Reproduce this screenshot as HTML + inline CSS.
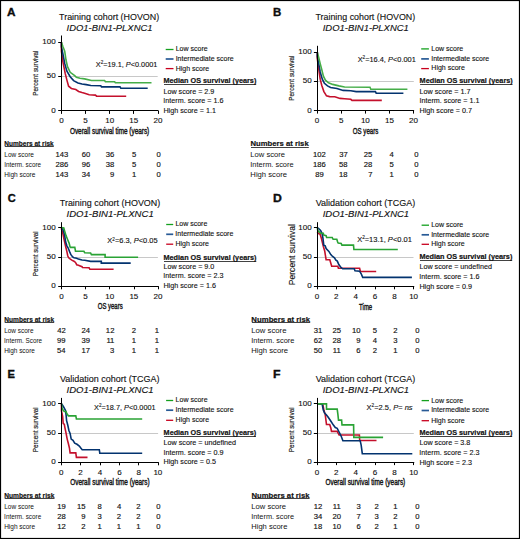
<!DOCTYPE html>
<html><head><meta charset="utf-8"><style>
html,body{margin:0;padding:0;background:#fff;}
svg{display:block;}
text{font-family:"Liberation Sans", sans-serif;stroke:#111;stroke-width:0.12px;} text[font-weight=bold]{stroke:none;}
</style></head><body>
<svg width="520" height="539" viewBox="0 0 520 539">
<rect x="0" y="0" width="520" height="539" fill="#fff"/>
<text transform="translate(6.91,15.70) scale(1.179,1)" font-size="10.0" font-weight="bold" font-style="normal" fill="#111" style="stroke:#000;stroke-width:0.3px">A</text>
<text transform="translate(59.10,20.10) scale(1.013,1)" font-size="8.8" font-weight="normal" font-style="normal" fill="#111">Training cohort (HOVON)</text>
<text transform="translate(66.62,31.00) scale(1.072,1)" font-size="8.8" font-weight="normal" font-style="italic" fill="#111">IDO1-BIN1-PLXNC1</text>
<line x1="61.4" y1="76.5" x2="157.7" y2="76.5" stroke="#c8c8c8" stroke-width="1.0"/>
<polyline points="61.4,42.2 61.4,51.1 63,62.3 65.2,73.4 66.9,80.1 68.6,86.2 71.4,88.4 75.8,89.6 78.6,91.5 82,92.5 84.6,93.2 89.2,94.8 95.4,95.1 96.6,96.2 126.2,96.2" fill="none" stroke="#c4102c" stroke-width="1.6" stroke-linejoin="miter" stroke-linecap="butt"/>
<polyline points="61.4,42.2 61.4,46.7 63,54.5 64.7,63.4 66.9,71.2 70.2,76.7 73.6,80.6 78,82.9 82,84 86.2,84.6 90.8,85.5 100.8,85.8 101.5,86.9 120,86.9 120.8,88.2 147.7,88.2" fill="none" stroke="#03336f" stroke-width="1.6" stroke-linejoin="miter" stroke-linecap="butt"/>
<polyline points="61.4,42.2 63,46.7 64.7,51.1 66,60 67.5,66.7 70.2,72.3 74.7,75.6 76.4,77.3 80,78.2 84.6,78.9 91.5,80.5 104.6,80.5 105.4,81.7 114.6,81.7 115.4,82.8 151.5,82.8" fill="none" stroke="#45ad48" stroke-width="1.6" stroke-linejoin="miter" stroke-linecap="butt"/>
<line x1="61.5" y1="35.5" x2="61.5" y2="111.3" stroke="#000" stroke-width="1.0"/>
<line x1="60.9" y1="110.5" x2="158.5" y2="110.5" stroke="#000" stroke-width="1.0"/>
<line x1="58.199999999999996" y1="42.5" x2="61.4" y2="42.5" stroke="#000" stroke-width="1.0"/>
<text transform="translate(42.17,44.29) scale(1.060,1)" font-size="7.6" font-weight="normal" font-style="normal" fill="#111">100</text>
<line x1="58.199999999999996" y1="76.5" x2="61.4" y2="76.5" stroke="#000" stroke-width="1.0"/>
<text transform="translate(46.66,78.49) scale(1.060,1)" font-size="7.6" font-weight="normal" font-style="normal" fill="#111">50</text>
<line x1="58.199999999999996" y1="110.5" x2="61.4" y2="110.5" stroke="#000" stroke-width="1.0"/>
<text transform="translate(51.13,112.89) scale(1.060,1)" font-size="7.6" font-weight="normal" font-style="normal" fill="#111">0</text>
<line x1="61.5" y1="110.8" x2="61.5" y2="113.89999999999999" stroke="#000" stroke-width="1.0"/>
<text transform="translate(59.15,123.10) scale(1.060,1)" font-size="7.6" font-weight="normal" font-style="normal" fill="#111">0</text>
<line x1="85.5" y1="110.8" x2="85.5" y2="113.89999999999999" stroke="#000" stroke-width="1.0"/>
<text transform="translate(83.36,123.10) scale(1.060,1)" font-size="7.6" font-weight="normal" font-style="normal" fill="#111">5</text>
<line x1="109.5" y1="110.8" x2="109.5" y2="113.89999999999999" stroke="#000" stroke-width="1.0"/>
<text transform="translate(105.18,123.10) scale(1.060,1)" font-size="7.6" font-weight="normal" font-style="normal" fill="#111">10</text>
<line x1="133.5" y1="110.8" x2="133.5" y2="113.89999999999999" stroke="#000" stroke-width="1.0"/>
<text transform="translate(129.29,123.10) scale(1.060,1)" font-size="7.6" font-weight="normal" font-style="normal" fill="#111">15</text>
<line x1="158.5" y1="110.8" x2="158.5" y2="113.89999999999999" stroke="#000" stroke-width="1.0"/>
<text transform="translate(153.48,123.10) scale(1.060,1)" font-size="7.6" font-weight="normal" font-style="normal" fill="#111">20</text>
<text transform="translate(69.90,134.30) scale(0.729,1)" font-size="8.8" font-weight="normal" font-style="normal" fill="#111" style="stroke-width:0.4px">Overall survival time (years)</text>
<text transform="translate(38.30,95.72) rotate(-90) scale(0.803,1)" font-size="7.9" font-weight="normal" fill="#111" style="stroke-width:0.15px">Percent survival</text>
<text transform="translate(95.84,66.50) scale(1.004,1)" font-size="7.3" fill="#111"><tspan x="0.00" y="0.00" font-size="7.30" font-style="normal">X</tspan><tspan x="4.87" y="-2.77" font-size="4.53" font-style="normal">2</tspan><tspan x="7.39" y="0.00" font-size="7.30" font-style="normal">=19.1, </tspan><tspan x="29.91" y="0.00" font-size="7.30" font-style="italic">P</tspan><tspan x="34.78" y="0.00" font-size="7.30" font-style="normal">&lt;0.0001</tspan></text>
<line x1="165.7" y1="49.5" x2="173.5" y2="49.5" stroke="#14a01e" stroke-width="1.3"/>
<text transform="translate(175.72,51.30) scale(1.000,1)" font-size="7.0" font-weight="normal" font-style="normal" fill="#111">Low score</text>
<line x1="165.7" y1="59" x2="173.5" y2="59" stroke="#285a96" stroke-width="1.7"/>
<text transform="translate(175.65,60.90) scale(1.000,1)" font-size="7.0" font-weight="normal" font-style="normal" fill="#111">Intermediate score</text>
<line x1="165.7" y1="68.6" x2="173.5" y2="68.6" stroke="#c8001e" stroke-width="1.3"/>
<text transform="translate(175.72,70.50) scale(1.000,1)" font-size="7.0" font-weight="normal" font-style="normal" fill="#111">High score</text>
<text transform="translate(163.51,83.20) scale(1.011,1)" font-size="7.2" font-weight="bold" font-style="normal" fill="#111" style="stroke:#111;stroke-width:0.18px">Median OS survival (years)</text>
<line x1="164" y1="84.5" x2="256.2" y2="84.5" stroke="#111" stroke-width="0.8"/>
<text transform="translate(163.41,93.60) scale(1.000,1)" font-size="7.2" font-weight="normal" font-style="normal" fill="#111">Low score = 2.9</text>
<text transform="translate(163.33,103.00) scale(1.000,1)" font-size="7.2" font-weight="normal" font-style="normal" fill="#111">Interm. score = 1.6</text>
<text transform="translate(163.41,112.60) scale(1.000,1)" font-size="7.2" font-weight="normal" font-style="normal" fill="#111">High score = 1.1</text>
<text transform="translate(4.36,145.50) scale(0.817,1)" font-size="8.0" font-weight="bold" font-style="normal" fill="#111" style="stroke:#111;stroke-width:0.18px">Numbers at risk</text>
<line x1="4.8" y1="146.5" x2="53.8" y2="146.5" stroke="#111" stroke-width="0.8"/>
<text transform="translate(4.26,157.10) scale(0.945,1)" font-size="6.9" font-weight="normal" font-style="normal" fill="#111" style="stroke:none">Low score</text>
<text transform="translate(4.22,167.00) scale(0.915,1)" font-size="6.9" font-weight="normal" font-style="normal" fill="#111" style="stroke:none">Interm. score</text>
<text transform="translate(4.26,176.90) scale(0.946,1)" font-size="6.9" font-weight="normal" font-style="normal" fill="#111" style="stroke:none">High score</text>
<text transform="translate(55.54,157.40) scale(1.080,1)" font-size="7.1" font-weight="normal" font-style="normal" fill="#111" style="stroke-width:0.15px">143</text>
<text transform="translate(81.78,157.40) scale(1.080,1)" font-size="7.1" font-weight="normal" font-style="normal" fill="#111" style="stroke-width:0.15px">60</text>
<text transform="translate(105.81,157.40) scale(1.080,1)" font-size="7.1" font-weight="normal" font-style="normal" fill="#111" style="stroke-width:0.15px">36</text>
<text transform="translate(132.05,157.40) scale(1.080,1)" font-size="7.1" font-weight="normal" font-style="normal" fill="#111" style="stroke-width:0.15px">5</text>
<text transform="translate(156.43,157.40) scale(1.080,1)" font-size="7.1" font-weight="normal" font-style="normal" fill="#111" style="stroke-width:0.15px">0</text>
<text transform="translate(55.54,167.30) scale(1.080,1)" font-size="7.1" font-weight="normal" font-style="normal" fill="#111" style="stroke-width:0.15px">286</text>
<text transform="translate(81.81,167.30) scale(1.080,1)" font-size="7.1" font-weight="normal" font-style="normal" fill="#111" style="stroke-width:0.15px">96</text>
<text transform="translate(105.81,167.30) scale(1.080,1)" font-size="7.1" font-weight="normal" font-style="normal" fill="#111" style="stroke-width:0.15px">38</text>
<text transform="translate(132.05,167.30) scale(1.080,1)" font-size="7.1" font-weight="normal" font-style="normal" fill="#111" style="stroke-width:0.15px">5</text>
<text transform="translate(156.43,167.30) scale(1.080,1)" font-size="7.1" font-weight="normal" font-style="normal" fill="#111" style="stroke-width:0.15px">0</text>
<text transform="translate(55.54,177.20) scale(1.080,1)" font-size="7.1" font-weight="normal" font-style="normal" fill="#111" style="stroke-width:0.15px">143</text>
<text transform="translate(81.70,177.20) scale(1.080,1)" font-size="7.1" font-weight="normal" font-style="normal" fill="#111" style="stroke-width:0.15px">34</text>
<text transform="translate(110.09,177.20) scale(1.080,1)" font-size="7.1" font-weight="normal" font-style="normal" fill="#111" style="stroke-width:0.15px">9</text>
<text transform="translate(132.11,177.20) scale(1.080,1)" font-size="7.1" font-weight="normal" font-style="normal" fill="#111" style="stroke-width:0.15px">1</text>
<text transform="translate(156.43,177.20) scale(1.080,1)" font-size="7.1" font-weight="normal" font-style="normal" fill="#111" style="stroke-width:0.15px">0</text>
<text transform="translate(272.98,15.50) scale(1.148,1)" font-size="10.0" font-weight="bold" font-style="normal" fill="#111" style="stroke:#000;stroke-width:0.3px">B</text>
<text transform="translate(315.50,19.80) scale(1.009,1)" font-size="8.8" font-weight="normal" font-style="normal" fill="#111">Training cohort (HOVON)</text>
<text transform="translate(322.72,31.00) scale(1.074,1)" font-size="8.8" font-weight="normal" font-style="italic" fill="#111">IDO1-BIN1-PLXNC1</text>
<line x1="317" y1="81.5" x2="413.8" y2="81.5" stroke="#c8c8c8" stroke-width="1.0"/>
<polyline points="317.3,52.2 317.3,58.4 318.7,68.8 320.2,79.2 321.8,85.4 323.9,91.6 326.5,95.8 329.6,96.6 334.8,96.8 340,98.4 344.6,98.8 350.8,99.3 352,100.4 381.8,100.4" fill="none" stroke="#c4102c" stroke-width="1.6" stroke-linejoin="miter" stroke-linecap="butt"/>
<polyline points="317.3,52.2 317.3,56.3 318.7,63.6 320.2,71.9 322.3,79.2 324.4,83.3 327.5,85.9 330.6,87.5 336.9,88.5 343.1,90.4 350.8,90.7 356.2,91.6 375.4,91.6 376.2,93.2 403.4,93.2" fill="none" stroke="#03336f" stroke-width="1.6" stroke-linejoin="miter" stroke-linecap="butt"/>
<polyline points="317.3,52.2 318.7,57.4 320.2,63.6 321.8,69.8 323.4,76.1 325.4,80.2 328.5,82.8 332.7,84.4 338.9,85.9 344.6,87 370,87.2 370.8,89.2 407.4,89.2" fill="none" stroke="#45ad48" stroke-width="1.6" stroke-linejoin="miter" stroke-linecap="butt"/>
<line x1="317.5" y1="45.8" x2="317.5" y2="111.0" stroke="#000" stroke-width="1.0"/>
<line x1="316.6" y1="110.5" x2="414.1" y2="110.5" stroke="#000" stroke-width="1.0"/>
<line x1="313.90000000000003" y1="52.5" x2="317.1" y2="52.5" stroke="#000" stroke-width="1.0"/>
<text transform="translate(298.17,54.09) scale(1.060,1)" font-size="7.6" font-weight="normal" font-style="normal" fill="#111">100</text>
<line x1="313.90000000000003" y1="81.5" x2="317.1" y2="81.5" stroke="#000" stroke-width="1.0"/>
<text transform="translate(302.66,83.49) scale(1.060,1)" font-size="7.6" font-weight="normal" font-style="normal" fill="#111">50</text>
<line x1="313.90000000000003" y1="110.5" x2="317.1" y2="110.5" stroke="#000" stroke-width="1.0"/>
<text transform="translate(307.13,112.59) scale(1.060,1)" font-size="7.6" font-weight="normal" font-style="normal" fill="#111">0</text>
<line x1="317.5" y1="110.5" x2="317.5" y2="113.6" stroke="#000" stroke-width="1.0"/>
<text transform="translate(314.85,122.80) scale(1.060,1)" font-size="7.6" font-weight="normal" font-style="normal" fill="#111">0</text>
<line x1="341.5" y1="110.5" x2="341.5" y2="113.6" stroke="#000" stroke-width="1.0"/>
<text transform="translate(338.96,122.80) scale(1.060,1)" font-size="7.6" font-weight="normal" font-style="normal" fill="#111">5</text>
<line x1="365.5" y1="110.5" x2="365.5" y2="113.6" stroke="#000" stroke-width="1.0"/>
<text transform="translate(360.88,122.80) scale(1.060,1)" font-size="7.6" font-weight="normal" font-style="normal" fill="#111">10</text>
<line x1="389.5" y1="110.5" x2="389.5" y2="113.6" stroke="#000" stroke-width="1.0"/>
<text transform="translate(385.09,122.80) scale(1.060,1)" font-size="7.6" font-weight="normal" font-style="normal" fill="#111">15</text>
<line x1="413.5" y1="110.5" x2="413.5" y2="113.6" stroke="#000" stroke-width="1.0"/>
<text transform="translate(409.08,122.80) scale(1.060,1)" font-size="7.6" font-weight="normal" font-style="normal" fill="#111">20</text>
<text transform="translate(352.81,134.20) scale(0.695,1)" font-size="8.8" font-weight="normal" font-style="normal" fill="#111" style="stroke-width:0.4px">OS years</text>
<text transform="translate(294.00,100.72) rotate(-90) scale(0.803,1)" font-size="7.9" font-weight="normal" fill="#111" style="stroke-width:0.15px">Percent survival</text>
<text transform="translate(357.63,61.80) scale(1.016,1)" font-size="7.3" fill="#111"><tspan x="0.00" y="0.00" font-size="7.30" font-style="normal">X</tspan><tspan x="4.87" y="-2.77" font-size="4.53" font-style="normal">2</tspan><tspan x="7.39" y="0.00" font-size="7.30" font-style="normal">=16.4, </tspan><tspan x="29.91" y="0.00" font-size="7.30" font-style="italic">P</tspan><tspan x="34.78" y="0.00" font-size="7.30" font-style="normal">&lt;0.001</tspan></text>
<line x1="421.2" y1="48.9" x2="428.9" y2="48.9" stroke="#14a01e" stroke-width="1.3"/>
<text transform="translate(431.32,50.80) scale(1.000,1)" font-size="7.0" font-weight="normal" font-style="normal" fill="#111">Low score</text>
<line x1="421.2" y1="58.9" x2="428.9" y2="58.9" stroke="#285a96" stroke-width="1.7"/>
<text transform="translate(431.25,60.70) scale(1.000,1)" font-size="7.0" font-weight="normal" font-style="normal" fill="#111">Intermediate score</text>
<line x1="421.2" y1="68.6" x2="428.9" y2="68.6" stroke="#c8001e" stroke-width="1.3"/>
<text transform="translate(431.32,70.40) scale(1.000,1)" font-size="7.0" font-weight="normal" font-style="normal" fill="#111">High score</text>
<text transform="translate(419.61,83.00) scale(1.013,1)" font-size="7.2" font-weight="bold" font-style="normal" fill="#111" style="stroke:#111;stroke-width:0.18px">Median OS survival (years)</text>
<line x1="420.1" y1="84.5" x2="512.5" y2="84.5" stroke="#111" stroke-width="0.8"/>
<text transform="translate(419.51,93.60) scale(1.000,1)" font-size="7.2" font-weight="normal" font-style="normal" fill="#111">Low score = 1.7</text>
<text transform="translate(419.43,102.90) scale(1.000,1)" font-size="7.2" font-weight="normal" font-style="normal" fill="#111">Interm. score = 1.1</text>
<text transform="translate(419.51,113.00) scale(1.000,1)" font-size="7.2" font-weight="normal" font-style="normal" fill="#111">High score = 0.7</text>
<text transform="translate(250.48,145.60) scale(0.964,1)" font-size="8.0" font-weight="bold" font-style="normal" fill="#111" style="stroke:#111;stroke-width:0.18px">Numbers at risk</text>
<line x1="251" y1="147.5" x2="308.8" y2="147.5" stroke="#111" stroke-width="0.8"/>
<text transform="translate(250.37,157.00) scale(1.105,1)" font-size="6.9" font-weight="normal" font-style="normal" fill="#111" style="stroke:none">Low score</text>
<text transform="translate(250.31,166.90) scale(1.076,1)" font-size="6.9" font-weight="normal" font-style="normal" fill="#111" style="stroke:none">Interm. score</text>
<text transform="translate(250.37,176.60) scale(1.111,1)" font-size="6.9" font-weight="normal" font-style="normal" fill="#111" style="stroke:none">High score</text>
<text transform="translate(312.91,157.30) scale(1.080,1)" font-size="7.1" font-weight="normal" font-style="normal" fill="#111" style="stroke-width:0.15px">102</text>
<text transform="translate(339.17,157.30) scale(1.080,1)" font-size="7.1" font-weight="normal" font-style="normal" fill="#111" style="stroke-width:0.15px">37</text>
<text transform="translate(363.80,157.30) scale(1.080,1)" font-size="7.1" font-weight="normal" font-style="normal" fill="#111" style="stroke-width:0.15px">25</text>
<text transform="translate(389.46,157.30) scale(1.080,1)" font-size="7.1" font-weight="normal" font-style="normal" fill="#111" style="stroke-width:0.15px">4</text>
<text transform="translate(414.23,157.30) scale(1.080,1)" font-size="7.1" font-weight="normal" font-style="normal" fill="#111" style="stroke-width:0.15px">0</text>
<text transform="translate(312.88,167.20) scale(1.080,1)" font-size="7.1" font-weight="normal" font-style="normal" fill="#111" style="stroke-width:0.15px">186</text>
<text transform="translate(339.11,167.20) scale(1.080,1)" font-size="7.1" font-weight="normal" font-style="normal" fill="#111" style="stroke-width:0.15px">58</text>
<text transform="translate(363.81,167.20) scale(1.080,1)" font-size="7.1" font-weight="normal" font-style="normal" fill="#111" style="stroke-width:0.15px">28</text>
<text transform="translate(389.55,167.20) scale(1.080,1)" font-size="7.1" font-weight="normal" font-style="normal" fill="#111" style="stroke-width:0.15px">5</text>
<text transform="translate(414.23,167.20) scale(1.080,1)" font-size="7.1" font-weight="normal" font-style="normal" fill="#111" style="stroke-width:0.15px">0</text>
<text transform="translate(315.15,176.90) scale(1.080,1)" font-size="7.1" font-weight="normal" font-style="normal" fill="#111" style="stroke-width:0.15px">89</text>
<text transform="translate(339.11,176.90) scale(1.080,1)" font-size="7.1" font-weight="normal" font-style="normal" fill="#111" style="stroke-width:0.15px">18</text>
<text transform="translate(368.13,176.90) scale(1.080,1)" font-size="7.1" font-weight="normal" font-style="normal" fill="#111" style="stroke-width:0.15px">7</text>
<text transform="translate(389.61,176.90) scale(1.080,1)" font-size="7.1" font-weight="normal" font-style="normal" fill="#111" style="stroke-width:0.15px">1</text>
<text transform="translate(414.23,176.90) scale(1.080,1)" font-size="7.1" font-weight="normal" font-style="normal" fill="#111" style="stroke-width:0.15px">0</text>
<text transform="translate(7.81,202.00) scale(1.107,1)" font-size="10.0" font-weight="bold" font-style="normal" fill="#111" style="stroke:#000;stroke-width:0.3px">C</text>
<text transform="translate(59.80,206.20) scale(1.016,1)" font-size="8.8" font-weight="normal" font-style="normal" fill="#111">Training cohort (HOVON)</text>
<text transform="translate(66.52,217.00) scale(1.088,1)" font-size="8.8" font-weight="normal" font-style="italic" fill="#111">IDO1-BIN1-PLXNC1</text>
<line x1="61.4" y1="257.5" x2="157.9" y2="257.5" stroke="#c8c8c8" stroke-width="1.0"/>
<polyline points="61.4,228.0 61.6,229.3 62.9,233.8 64.2,240 65.6,246.2 66.9,251.6 67.8,256 68.7,257.8 70.4,259.1 72.2,260.4 74,261.3 75.3,262.2 76.2,263.6 76.7,264.9 78.4,265.3 82,266.7 82.5,267.5 89.1,267.8 89.9,269.3 113.6,269.3" fill="none" stroke="#c4102c" stroke-width="1.6" stroke-linejoin="miter" stroke-linecap="butt"/>
<polyline points="61.4,228.0 62.9,229.3 64.7,235.6 65.6,241.8 66.9,245.8 68.2,248 69.6,251.6 70.9,254.7 72.7,256.9 74,257.8 76.7,258.2 78.4,259.1 82,260 84.7,260.3 90.6,261.4 101.3,261.4 101.3,263.1 130.7,263.1" fill="none" stroke="#03336f" stroke-width="1.6" stroke-linejoin="miter" stroke-linecap="butt"/>
<polyline points="61.4,227.6 63.8,228 64.7,231.1 66,235.6 67.8,240 69.1,243.1 70,246.7 70.4,247.4 74.8,247.4 75.5,251.2 83.9,251.3 84.7,252.7 90.6,253 91.4,254.6 105.1,254.6 105.1,257.2 138.1,257.2" fill="none" stroke="#2aa335" stroke-width="1.6" stroke-linejoin="miter" stroke-linecap="butt"/>
<line x1="61.5" y1="222.2" x2="61.5" y2="286.7" stroke="#000" stroke-width="1.0"/>
<line x1="60.9" y1="286.5" x2="158.5" y2="286.5" stroke="#000" stroke-width="1.0"/>
<line x1="58.199999999999996" y1="227.5" x2="61.4" y2="227.5" stroke="#000" stroke-width="1.0"/>
<text transform="translate(42.37,229.99) scale(1.060,1)" font-size="7.6" font-weight="normal" font-style="normal" fill="#111">100</text>
<line x1="58.199999999999996" y1="257.5" x2="61.4" y2="257.5" stroke="#000" stroke-width="1.0"/>
<text transform="translate(46.86,259.19) scale(1.060,1)" font-size="7.6" font-weight="normal" font-style="normal" fill="#111">50</text>
<line x1="58.199999999999996" y1="286.5" x2="61.4" y2="286.5" stroke="#000" stroke-width="1.0"/>
<text transform="translate(51.33,288.29) scale(1.060,1)" font-size="7.6" font-weight="normal" font-style="normal" fill="#111">0</text>
<line x1="61.5" y1="286.2" x2="61.5" y2="289.3" stroke="#000" stroke-width="1.0"/>
<text transform="translate(59.15,298.70) scale(1.060,1)" font-size="7.6" font-weight="normal" font-style="normal" fill="#111">0</text>
<line x1="85.5" y1="286.2" x2="85.5" y2="289.3" stroke="#000" stroke-width="1.0"/>
<text transform="translate(83.26,298.70) scale(1.060,1)" font-size="7.6" font-weight="normal" font-style="normal" fill="#111">5</text>
<line x1="109.5" y1="286.2" x2="109.5" y2="289.3" stroke="#000" stroke-width="1.0"/>
<text transform="translate(105.18,298.70) scale(1.060,1)" font-size="7.6" font-weight="normal" font-style="normal" fill="#111">10</text>
<line x1="134.5" y1="286.2" x2="134.5" y2="289.3" stroke="#000" stroke-width="1.0"/>
<text transform="translate(129.39,298.70) scale(1.060,1)" font-size="7.6" font-weight="normal" font-style="normal" fill="#111">15</text>
<line x1="158.5" y1="286.2" x2="158.5" y2="289.3" stroke="#000" stroke-width="1.0"/>
<text transform="translate(153.48,298.70) scale(1.060,1)" font-size="7.6" font-weight="normal" font-style="normal" fill="#111">20</text>
<text transform="translate(97.72,309.30) scale(0.682,1)" font-size="8.8" font-weight="normal" font-style="normal" fill="#111" style="stroke-width:0.4px">OS years</text>
<text transform="translate(38.20,276.32) rotate(-90) scale(0.801,1)" font-size="7.9" font-weight="normal" fill="#111" style="stroke-width:0.15px">Percent survival</text>
<text transform="translate(107.33,243.40) scale(1.022,1)" font-size="7.3" fill="#111"><tspan x="0.00" y="0.00" font-size="7.30" font-style="normal">X</tspan><tspan x="4.87" y="-2.77" font-size="4.53" font-style="normal">2</tspan><tspan x="7.39" y="0.00" font-size="7.30" font-style="normal">=6.3, </tspan><tspan x="25.85" y="0.00" font-size="7.30" font-style="italic">P</tspan><tspan x="30.72" y="0.00" font-size="7.30" font-style="normal">&lt;0.05</tspan></text>
<line x1="166.2" y1="224.5" x2="173.2" y2="224.5" stroke="#14a01e" stroke-width="1.3"/>
<text transform="translate(175.42,226.30) scale(1.000,1)" font-size="7.0" font-weight="normal" font-style="normal" fill="#111">Low score</text>
<line x1="166.2" y1="234.3" x2="173.2" y2="234.3" stroke="#285a96" stroke-width="1.7"/>
<text transform="translate(175.35,236.10) scale(1.000,1)" font-size="7.0" font-weight="normal" font-style="normal" fill="#111">Intermediate score</text>
<line x1="166.2" y1="244.2" x2="173.2" y2="244.2" stroke="#c8001e" stroke-width="1.3"/>
<text transform="translate(175.42,246.00) scale(1.000,1)" font-size="7.0" font-weight="normal" font-style="normal" fill="#111">High score</text>
<text transform="translate(163.51,259.50) scale(1.012,1)" font-size="7.2" font-weight="bold" font-style="normal" fill="#111" style="stroke:#111;stroke-width:0.18px">Median OS survival (years)</text>
<line x1="164" y1="261.5" x2="256.3" y2="261.5" stroke="#111" stroke-width="0.8"/>
<text transform="translate(163.41,269.10) scale(1.000,1)" font-size="7.2" font-weight="normal" font-style="normal" fill="#111">Low score = 9.0</text>
<text transform="translate(163.33,278.40) scale(1.000,1)" font-size="7.2" font-weight="normal" font-style="normal" fill="#111">Interm. score = 2.3</text>
<text transform="translate(163.41,287.60) scale(1.000,1)" font-size="7.2" font-weight="normal" font-style="normal" fill="#111">High score = 1.6</text>
<text transform="translate(4.25,321.50) scale(0.826,1)" font-size="8.0" font-weight="bold" font-style="normal" fill="#111" style="stroke:#111;stroke-width:0.18px">Numbers at risk</text>
<line x1="4.7" y1="322.5" x2="54.2" y2="322.5" stroke="#111" stroke-width="0.8"/>
<text transform="translate(4.17,332.90) scale(0.938,1)" font-size="6.9" font-weight="normal" font-style="normal" fill="#111" style="stroke:none">Low score</text>
<text transform="translate(4.11,343.00) scale(0.919,1)" font-size="6.9" font-weight="normal" font-style="normal" fill="#111" style="stroke:none">Interm. Score</text>
<text transform="translate(4.17,352.70) scale(0.931,1)" font-size="6.9" font-weight="normal" font-style="normal" fill="#111" style="stroke:none">High score</text>
<text transform="translate(57.15,333.20) scale(1.080,1)" font-size="7.1" font-weight="normal" font-style="normal" fill="#111" style="stroke-width:0.15px">42</text>
<text transform="translate(81.40,333.20) scale(1.080,1)" font-size="7.1" font-weight="normal" font-style="normal" fill="#111" style="stroke-width:0.15px">24</text>
<text transform="translate(105.87,333.20) scale(1.080,1)" font-size="7.1" font-weight="normal" font-style="normal" fill="#111" style="stroke-width:0.15px">12</text>
<text transform="translate(131.87,333.20) scale(1.080,1)" font-size="7.1" font-weight="normal" font-style="normal" fill="#111" style="stroke-width:0.15px">2</text>
<text transform="translate(154.77,333.20) scale(1.080,1)" font-size="7.1" font-weight="normal" font-style="normal" fill="#111" style="stroke-width:0.15px">1</text>
<text transform="translate(57.03,343.30) scale(1.080,1)" font-size="7.1" font-weight="normal" font-style="normal" fill="#111" style="stroke-width:0.15px">99</text>
<text transform="translate(81.53,343.30) scale(1.080,1)" font-size="7.1" font-weight="normal" font-style="normal" fill="#111" style="stroke-width:0.15px">39</text>
<text transform="translate(106.41,343.30) scale(1.080,1)" font-size="7.1" font-weight="normal" font-style="normal" fill="#111" style="stroke-width:0.15px">11</text>
<text transform="translate(131.77,343.30) scale(1.080,1)" font-size="7.1" font-weight="normal" font-style="normal" fill="#111" style="stroke-width:0.15px">1</text>
<text transform="translate(154.77,343.30) scale(1.080,1)" font-size="7.1" font-weight="normal" font-style="normal" fill="#111" style="stroke-width:0.15px">1</text>
<text transform="translate(57.00,353.00) scale(1.080,1)" font-size="7.1" font-weight="normal" font-style="normal" fill="#111" style="stroke-width:0.15px">54</text>
<text transform="translate(81.57,353.00) scale(1.080,1)" font-size="7.1" font-weight="normal" font-style="normal" fill="#111" style="stroke-width:0.15px">17</text>
<text transform="translate(110.07,353.00) scale(1.080,1)" font-size="7.1" font-weight="normal" font-style="normal" fill="#111" style="stroke-width:0.15px">3</text>
<text transform="translate(131.77,353.00) scale(1.080,1)" font-size="7.1" font-weight="normal" font-style="normal" fill="#111" style="stroke-width:0.15px">1</text>
<text transform="translate(154.77,353.00) scale(1.080,1)" font-size="7.1" font-weight="normal" font-style="normal" fill="#111" style="stroke-width:0.15px">1</text>
<text transform="translate(272.92,202.00) scale(1.224,1)" font-size="10.0" font-weight="bold" font-style="normal" fill="#111" style="stroke:#000;stroke-width:0.3px">D</text>
<text transform="translate(315.66,206.20) scale(1.021,1)" font-size="8.8" font-weight="normal" font-style="normal" fill="#111">Validation cohort (TCGA)</text>
<text transform="translate(322.72,217.00) scale(1.079,1)" font-size="8.8" font-weight="normal" font-style="italic" fill="#111">IDO1-BIN1-PLXNC1</text>
<line x1="317.1" y1="257.5" x2="413.5" y2="257.5" stroke="#c8c8c8" stroke-width="1.0"/>
<polyline points="317.3,231.9 318.2,233.3 320.1,234.2 321.5,238.8 323.3,246.3 324.7,250.9 326.1,259.7 329.8,259.7 331.7,266.2 337.8,266.2 338.4,268.2 359.6,268.2 360.4,271.5 376.2,271.5" fill="none" stroke="#c4102c" stroke-width="1.6" stroke-linejoin="miter" stroke-linecap="butt"/>
<polyline points="317.3,227.7 318.7,228.6 320.6,230.5 322,233.3 322.9,237.9 323.8,245.3 325.2,245.8 326.1,248.6 328.9,251.4 330.8,254.6 332.6,256.5 334.5,257.9 335.9,260.2 337.3,261.1 338.8,264.6 341.2,267.7 342.7,268.8 354.2,268.8 355,270.8 359.6,271.2 361.2,273.8 362.7,277.4 411.9,277.4" fill="none" stroke="#03336f" stroke-width="1.6" stroke-linejoin="miter" stroke-linecap="butt"/>
<polyline points="317.3,227.7 317.8,230.5 320.6,233.3 323.3,233.3 323.8,235.1 326.1,235.6 326.6,237.5 332.2,237.5 333.1,239.3 336.8,239.3 337.7,242.1 338.2,243.1 341.2,243.5 341.9,245.1 353.5,245.1 353.9,249.5 397.8,249.5" fill="none" stroke="#2aa335" stroke-width="1.6" stroke-linejoin="miter" stroke-linecap="butt"/>
<line x1="317.5" y1="222.2" x2="317.5" y2="286.7" stroke="#000" stroke-width="1.0"/>
<line x1="316.6" y1="286.5" x2="414.25" y2="286.5" stroke="#000" stroke-width="1.0"/>
<line x1="313.90000000000003" y1="227.5" x2="317.1" y2="227.5" stroke="#000" stroke-width="1.0"/>
<text transform="translate(298.27,229.79) scale(1.060,1)" font-size="7.6" font-weight="normal" font-style="normal" fill="#111">100</text>
<line x1="313.90000000000003" y1="257.5" x2="317.1" y2="257.5" stroke="#000" stroke-width="1.0"/>
<text transform="translate(302.76,259.29) scale(1.060,1)" font-size="7.6" font-weight="normal" font-style="normal" fill="#111">50</text>
<line x1="313.90000000000003" y1="286.5" x2="317.1" y2="286.5" stroke="#000" stroke-width="1.0"/>
<text transform="translate(307.23,288.29) scale(1.060,1)" font-size="7.6" font-weight="normal" font-style="normal" fill="#111">0</text>
<line x1="317.5" y1="286.2" x2="317.5" y2="289.3" stroke="#000" stroke-width="1.0"/>
<text transform="translate(314.85,298.70) scale(1.060,1)" font-size="7.6" font-weight="normal" font-style="normal" fill="#111">0</text>
<line x1="336.5" y1="286.2" x2="336.5" y2="289.3" stroke="#000" stroke-width="1.0"/>
<text transform="translate(334.06,298.70) scale(1.060,1)" font-size="7.6" font-weight="normal" font-style="normal" fill="#111">2</text>
<line x1="355.5" y1="286.2" x2="355.5" y2="289.3" stroke="#000" stroke-width="1.0"/>
<text transform="translate(353.53,298.70) scale(1.060,1)" font-size="7.6" font-weight="normal" font-style="normal" fill="#111">4</text>
<line x1="375.5" y1="286.2" x2="375.5" y2="289.3" stroke="#000" stroke-width="1.0"/>
<text transform="translate(372.73,298.70) scale(1.060,1)" font-size="7.6" font-weight="normal" font-style="normal" fill="#111">6</text>
<line x1="394.5" y1="286.2" x2="394.5" y2="289.3" stroke="#000" stroke-width="1.0"/>
<text transform="translate(392.26,298.70) scale(1.060,1)" font-size="7.6" font-weight="normal" font-style="normal" fill="#111">8</text>
<line x1="413.5" y1="286.2" x2="413.5" y2="289.3" stroke="#000" stroke-width="1.0"/>
<text transform="translate(409.13,298.70) scale(1.060,1)" font-size="7.6" font-weight="normal" font-style="normal" fill="#111">10</text>
<text transform="translate(359.11,309.50) scale(0.683,1)" font-size="8.8" font-weight="normal" font-style="normal" fill="#111" style="stroke-width:0.4px">Time</text>
<text transform="translate(294.60,285.31) rotate(-90) scale(1.003,1)" font-size="8.6" font-weight="normal" fill="#111">Percent survival</text>
<text transform="translate(357.13,241.50) scale(1.028,1)" font-size="7.3" fill="#111"><tspan x="0.00" y="0.00" font-size="7.30" font-style="normal">X</tspan><tspan x="4.87" y="-2.77" font-size="4.53" font-style="normal">2</tspan><tspan x="7.39" y="0.00" font-size="7.30" font-style="normal">=13.1, </tspan><tspan x="29.91" y="0.00" font-size="7.30" font-style="italic">P</tspan><tspan x="34.78" y="0.00" font-size="7.30" font-style="normal">&lt;0.01</tspan></text>
<line x1="421.6" y1="225.2" x2="429" y2="225.2" stroke="#14a01e" stroke-width="1.3"/>
<text transform="translate(431.22,227.00) scale(1.000,1)" font-size="7.0" font-weight="normal" font-style="normal" fill="#111">Low score</text>
<line x1="421.6" y1="234.8" x2="429" y2="234.8" stroke="#285a96" stroke-width="1.7"/>
<text transform="translate(431.15,236.60) scale(1.000,1)" font-size="7.0" font-weight="normal" font-style="normal" fill="#111">Intermediate score</text>
<line x1="421.6" y1="244.3" x2="429" y2="244.3" stroke="#c8001e" stroke-width="1.3"/>
<text transform="translate(431.22,246.10) scale(1.000,1)" font-size="7.0" font-weight="normal" font-style="normal" fill="#111">High score</text>
<text transform="translate(419.51,259.40) scale(1.011,1)" font-size="7.2" font-weight="bold" font-style="normal" fill="#111" style="stroke:#111;stroke-width:0.18px">Median OS survival (years)</text>
<line x1="420" y1="260.5" x2="512.2" y2="260.5" stroke="#111" stroke-width="0.8"/>
<text transform="translate(419.41,269.40) scale(1.000,1)" font-size="7.2" font-weight="normal" font-style="normal" fill="#111">Low score = undefined</text>
<text transform="translate(419.33,279.20) scale(1.000,1)" font-size="7.2" font-weight="normal" font-style="normal" fill="#111">Interm. score = 1.6</text>
<text transform="translate(419.41,288.90) scale(1.000,1)" font-size="7.2" font-weight="normal" font-style="normal" fill="#111">High score = 0.9</text>
<text transform="translate(251.37,321.50) scale(0.973,1)" font-size="8.0" font-weight="bold" font-style="normal" fill="#111" style="stroke:#111;stroke-width:0.18px">Numbers at risk</text>
<line x1="251.9" y1="322.5" x2="310.2" y2="322.5" stroke="#111" stroke-width="0.8"/>
<text transform="translate(251.26,333.10) scale(1.121,1)" font-size="6.9" font-weight="normal" font-style="normal" fill="#111" style="stroke:none">Low score</text>
<text transform="translate(251.21,342.90) scale(1.076,1)" font-size="6.9" font-weight="normal" font-style="normal" fill="#111" style="stroke:none">Interm. score</text>
<text transform="translate(251.27,352.70) scale(1.115,1)" font-size="6.9" font-weight="normal" font-style="normal" fill="#111" style="stroke:none">High score</text>
<text transform="translate(313.78,333.40) scale(1.080,1)" font-size="7.1" font-weight="normal" font-style="normal" fill="#111" style="stroke-width:0.15px">31</text>
<text transform="translate(332.51,333.40) scale(1.080,1)" font-size="7.1" font-weight="normal" font-style="normal" fill="#111" style="stroke-width:0.15px">25</text>
<text transform="translate(351.98,333.40) scale(1.080,1)" font-size="7.1" font-weight="normal" font-style="normal" fill="#111" style="stroke-width:0.15px">10</text>
<text transform="translate(372.77,333.40) scale(1.080,1)" font-size="7.1" font-weight="normal" font-style="normal" fill="#111" style="stroke-width:0.15px">5</text>
<text transform="translate(393.27,333.40) scale(1.080,1)" font-size="7.1" font-weight="normal" font-style="normal" fill="#111" style="stroke-width:0.15px">2</text>
<text transform="translate(415.16,333.40) scale(1.080,1)" font-size="7.1" font-weight="normal" font-style="normal" fill="#111" style="stroke-width:0.15px">0</text>
<text transform="translate(313.74,343.20) scale(1.080,1)" font-size="7.1" font-weight="normal" font-style="normal" fill="#111" style="stroke-width:0.15px">62</text>
<text transform="translate(332.52,343.20) scale(1.080,1)" font-size="7.1" font-weight="normal" font-style="normal" fill="#111" style="stroke-width:0.15px">28</text>
<text transform="translate(356.29,343.20) scale(1.080,1)" font-size="7.1" font-weight="normal" font-style="normal" fill="#111" style="stroke-width:0.15px">9</text>
<text transform="translate(372.79,343.20) scale(1.080,1)" font-size="7.1" font-weight="normal" font-style="normal" fill="#111" style="stroke-width:0.15px">4</text>
<text transform="translate(393.29,343.20) scale(1.080,1)" font-size="7.1" font-weight="normal" font-style="normal" fill="#111" style="stroke-width:0.15px">3</text>
<text transform="translate(415.16,343.20) scale(1.080,1)" font-size="7.1" font-weight="normal" font-style="normal" fill="#111" style="stroke-width:0.15px">0</text>
<text transform="translate(313.73,353.00) scale(1.080,1)" font-size="7.1" font-weight="normal" font-style="normal" fill="#111" style="stroke-width:0.15px">50</text>
<text transform="translate(332.72,353.00) scale(1.080,1)" font-size="7.1" font-weight="normal" font-style="normal" fill="#111" style="stroke-width:0.15px">11</text>
<text transform="translate(356.27,353.00) scale(1.080,1)" font-size="7.1" font-weight="normal" font-style="normal" fill="#111" style="stroke-width:0.15px">6</text>
<text transform="translate(372.77,353.00) scale(1.080,1)" font-size="7.1" font-weight="normal" font-style="normal" fill="#111" style="stroke-width:0.15px">2</text>
<text transform="translate(393.17,353.00) scale(1.080,1)" font-size="7.1" font-weight="normal" font-style="normal" fill="#111" style="stroke-width:0.15px">1</text>
<text transform="translate(415.16,353.00) scale(1.080,1)" font-size="7.1" font-weight="normal" font-style="normal" fill="#111" style="stroke-width:0.15px">0</text>
<text transform="translate(7.50,377.50) scale(1.116,1)" font-size="10.0" font-weight="bold" font-style="normal" fill="#111" style="stroke:#000;stroke-width:0.3px">E</text>
<text transform="translate(59.95,381.70) scale(1.023,1)" font-size="8.8" font-weight="normal" font-style="normal" fill="#111">Validation cohort (TCGA)</text>
<text transform="translate(66.52,392.90) scale(1.087,1)" font-size="8.8" font-weight="normal" font-style="italic" fill="#111">IDO1-BIN1-PLXNC1</text>
<line x1="61.3" y1="433.5" x2="158.1" y2="433.5" stroke="#c8c8c8" stroke-width="1.0"/>
<polyline points="61.5,403.8 61.5,410.9 62,413.8 62.6,416.1 63.2,423.6 64.3,424.2 64.9,427.6 66.1,433.4 67.2,439.1 68.4,443.7 69.5,448.3 70.1,452.9 75.8,452.9 76.4,457.4 87.5,457.4" fill="none" stroke="#c4102c" stroke-width="1.6" stroke-linejoin="miter" stroke-linecap="butt"/>
<polyline points="61.5,403.8 63.2,406.3 64.3,408.1 65.5,410.4 66.1,415 66.6,420.7 67.8,425.3 68.9,430.5 70.1,433.4 71.2,439.1 73,440.3 74.7,443.2 77,444.3 79.3,446 81,448.3 82.2,449.7 99.3,449.7 99.8,453.2 142.2,453.2" fill="none" stroke="#03336f" stroke-width="1.6" stroke-linejoin="miter" stroke-linecap="butt"/>
<polyline points="61.5,403.8 62,408.1 62.6,409.2 63.2,410.4 64.3,411.5 66.1,411.5 66.6,413.2 67.8,415 68.4,415.9 75.8,415.9 76.4,419 142.2,419" fill="none" stroke="#2aa335" stroke-width="1.6" stroke-linejoin="miter" stroke-linecap="butt"/>
<line x1="61.5" y1="397.9" x2="61.5" y2="462.7" stroke="#000" stroke-width="1.0"/>
<line x1="60.8" y1="462.5" x2="158.5" y2="462.5" stroke="#000" stroke-width="1.0"/>
<line x1="58.099999999999994" y1="403.5" x2="61.3" y2="403.5" stroke="#000" stroke-width="1.0"/>
<text transform="translate(42.37,405.89) scale(1.060,1)" font-size="7.6" font-weight="normal" font-style="normal" fill="#111">100</text>
<line x1="58.099999999999994" y1="433.5" x2="61.3" y2="433.5" stroke="#000" stroke-width="1.0"/>
<text transform="translate(46.86,435.29) scale(1.060,1)" font-size="7.6" font-weight="normal" font-style="normal" fill="#111">50</text>
<line x1="58.099999999999994" y1="462.5" x2="61.3" y2="462.5" stroke="#000" stroke-width="1.0"/>
<text transform="translate(51.33,464.29) scale(1.060,1)" font-size="7.6" font-weight="normal" font-style="normal" fill="#111">0</text>
<line x1="61.5" y1="462.2" x2="61.5" y2="465.3" stroke="#000" stroke-width="1.0"/>
<text transform="translate(59.05,474.50) scale(1.060,1)" font-size="7.6" font-weight="normal" font-style="normal" fill="#111">0</text>
<line x1="80.5" y1="462.2" x2="80.5" y2="465.3" stroke="#000" stroke-width="1.0"/>
<text transform="translate(78.36,474.50) scale(1.060,1)" font-size="7.6" font-weight="normal" font-style="normal" fill="#111">2</text>
<line x1="100.5" y1="462.2" x2="100.5" y2="465.3" stroke="#000" stroke-width="1.0"/>
<text transform="translate(97.78,474.50) scale(1.060,1)" font-size="7.6" font-weight="normal" font-style="normal" fill="#111">4</text>
<line x1="119.5" y1="462.2" x2="119.5" y2="465.3" stroke="#000" stroke-width="1.0"/>
<text transform="translate(117.23,474.50) scale(1.060,1)" font-size="7.6" font-weight="normal" font-style="normal" fill="#111">6</text>
<line x1="138.5" y1="462.2" x2="138.5" y2="465.3" stroke="#000" stroke-width="1.0"/>
<text transform="translate(136.56,474.50) scale(1.060,1)" font-size="7.6" font-weight="normal" font-style="normal" fill="#111">8</text>
<line x1="158.5" y1="462.2" x2="158.5" y2="465.3" stroke="#000" stroke-width="1.0"/>
<text transform="translate(153.38,474.50) scale(1.060,1)" font-size="7.6" font-weight="normal" font-style="normal" fill="#111">10</text>
<text transform="translate(70.20,485.00) scale(0.729,1)" font-size="8.8" font-weight="normal" font-style="normal" fill="#111" style="stroke-width:0.4px">Overall survival time (years)</text>
<text transform="translate(38.20,452.32) rotate(-90) scale(0.801,1)" font-size="7.9" font-weight="normal" fill="#111" style="stroke-width:0.15px">Percent survival</text>
<text transform="translate(94.04,409.90) scale(1.004,1)" font-size="7.3" fill="#111"><tspan x="0.00" y="0.00" font-size="7.30" font-style="normal">X</tspan><tspan x="4.87" y="-2.77" font-size="4.53" font-style="normal">2</tspan><tspan x="7.39" y="0.00" font-size="7.30" font-style="normal">=18.7, </tspan><tspan x="29.91" y="0.00" font-size="7.30" font-style="italic">P</tspan><tspan x="34.78" y="0.00" font-size="7.30" font-style="normal">&lt;0.0001</tspan></text>
<line x1="166.1" y1="400.5" x2="173.2" y2="400.5" stroke="#14a01e" stroke-width="1.3"/>
<text transform="translate(175.62,402.40) scale(1.000,1)" font-size="7.0" font-weight="normal" font-style="normal" fill="#111">Low score</text>
<line x1="166.1" y1="410.2" x2="173.2" y2="410.2" stroke="#285a96" stroke-width="1.7"/>
<text transform="translate(175.55,412.10) scale(1.000,1)" font-size="7.0" font-weight="normal" font-style="normal" fill="#111">Intermediate score</text>
<line x1="166.1" y1="420.3" x2="173.2" y2="420.3" stroke="#c8001e" stroke-width="1.3"/>
<text transform="translate(175.62,422.10) scale(1.000,1)" font-size="7.0" font-weight="normal" font-style="normal" fill="#111">High score</text>
<text transform="translate(163.61,435.10) scale(1.008,1)" font-size="7.2" font-weight="bold" font-style="normal" fill="#111" style="stroke:#111;stroke-width:0.18px">Median OS survival (years)</text>
<line x1="164.1" y1="436.5" x2="256" y2="436.5" stroke="#111" stroke-width="0.8"/>
<text transform="translate(163.51,445.10) scale(1.000,1)" font-size="7.2" font-weight="normal" font-style="normal" fill="#111">Low score = undefined</text>
<text transform="translate(163.43,454.80) scale(1.000,1)" font-size="7.2" font-weight="normal" font-style="normal" fill="#111">Interm. score = 0.9</text>
<text transform="translate(163.51,464.40) scale(1.000,1)" font-size="7.2" font-weight="normal" font-style="normal" fill="#111">High score = 0.5</text>
<text transform="translate(4.25,497.50) scale(0.831,1)" font-size="8.0" font-weight="bold" font-style="normal" fill="#111" style="stroke:#111;stroke-width:0.18px">Numbers at risk</text>
<line x1="4.7" y1="498.5" x2="54.5" y2="498.5" stroke="#111" stroke-width="0.8"/>
<text transform="translate(4.16,508.70) scale(0.948,1)" font-size="6.9" font-weight="normal" font-style="normal" fill="#111" style="stroke:none">Low score</text>
<text transform="translate(4.11,518.80) scale(0.923,1)" font-size="6.9" font-weight="normal" font-style="normal" fill="#111" style="stroke:none">Interm. score</text>
<text transform="translate(4.16,528.70) scale(0.940,1)" font-size="6.9" font-weight="normal" font-style="normal" fill="#111" style="stroke:none">High score</text>
<text transform="translate(57.13,509.00) scale(1.080,1)" font-size="7.1" font-weight="normal" font-style="normal" fill="#111" style="stroke-width:0.15px">19</text>
<text transform="translate(77.00,509.00) scale(1.080,1)" font-size="7.1" font-weight="normal" font-style="normal" fill="#111" style="stroke-width:0.15px">15</text>
<text transform="translate(97.57,509.00) scale(1.080,1)" font-size="7.1" font-weight="normal" font-style="normal" fill="#111" style="stroke-width:0.15px">8</text>
<text transform="translate(116.89,509.00) scale(1.080,1)" font-size="7.1" font-weight="normal" font-style="normal" fill="#111" style="stroke-width:0.15px">4</text>
<text transform="translate(136.37,509.00) scale(1.080,1)" font-size="7.1" font-weight="normal" font-style="normal" fill="#111" style="stroke-width:0.15px">2</text>
<text transform="translate(156.16,509.00) scale(1.080,1)" font-size="7.1" font-weight="normal" font-style="normal" fill="#111" style="stroke-width:0.15px">0</text>
<text transform="translate(57.22,519.10) scale(1.080,1)" font-size="7.1" font-weight="normal" font-style="normal" fill="#111" style="stroke-width:0.15px">28</text>
<text transform="translate(81.29,519.10) scale(1.080,1)" font-size="7.1" font-weight="normal" font-style="normal" fill="#111" style="stroke-width:0.15px">9</text>
<text transform="translate(97.59,519.10) scale(1.080,1)" font-size="7.1" font-weight="normal" font-style="normal" fill="#111" style="stroke-width:0.15px">3</text>
<text transform="translate(116.87,519.10) scale(1.080,1)" font-size="7.1" font-weight="normal" font-style="normal" fill="#111" style="stroke-width:0.15px">2</text>
<text transform="translate(136.37,519.10) scale(1.080,1)" font-size="7.1" font-weight="normal" font-style="normal" fill="#111" style="stroke-width:0.15px">2</text>
<text transform="translate(156.16,519.10) scale(1.080,1)" font-size="7.1" font-weight="normal" font-style="normal" fill="#111" style="stroke-width:0.15px">0</text>
<text transform="translate(57.15,529.00) scale(1.080,1)" font-size="7.1" font-weight="normal" font-style="normal" fill="#111" style="stroke-width:0.15px">12</text>
<text transform="translate(81.33,529.00) scale(1.080,1)" font-size="7.1" font-weight="normal" font-style="normal" fill="#111" style="stroke-width:0.15px">2</text>
<text transform="translate(97.47,529.00) scale(1.080,1)" font-size="7.1" font-weight="normal" font-style="normal" fill="#111" style="stroke-width:0.15px">1</text>
<text transform="translate(116.77,529.00) scale(1.080,1)" font-size="7.1" font-weight="normal" font-style="normal" fill="#111" style="stroke-width:0.15px">1</text>
<text transform="translate(136.27,529.00) scale(1.080,1)" font-size="7.1" font-weight="normal" font-style="normal" fill="#111" style="stroke-width:0.15px">1</text>
<text transform="translate(156.16,529.00) scale(1.080,1)" font-size="7.1" font-weight="normal" font-style="normal" fill="#111" style="stroke-width:0.15px">0</text>
<text transform="translate(272.92,377.50) scale(1.232,1)" font-size="10.0" font-weight="bold" font-style="normal" fill="#111" style="stroke:#000;stroke-width:0.3px">F</text>
<text transform="translate(315.66,381.70) scale(1.021,1)" font-size="8.8" font-weight="normal" font-style="normal" fill="#111">Validation cohort (TCGA)</text>
<text transform="translate(322.72,392.90) scale(1.079,1)" font-size="8.8" font-weight="normal" font-style="italic" fill="#111">IDO1-BIN1-PLXNC1</text>
<line x1="317" y1="433.5" x2="413.8" y2="433.5" stroke="#c8c8c8" stroke-width="1.0"/>
<polyline points="317,403.9 322.7,403.9 324,410.6 325.2,414.4 326.5,424.5 329.7,424.5 330.9,428.3 331.5,431.4 337.2,431.4 339.1,435 359.4,435 359.7,440.5 376.5,440.5" fill="none" stroke="#c4102c" stroke-width="1.6" stroke-linejoin="miter" stroke-linecap="butt"/>
<polyline points="317,403.9 322.1,403.9 323.3,410 324.6,413.1 326.5,415 328.4,417.5 330.9,421.3 333.4,425.1 335.3,427.6 337.2,428.3 339.1,432 341,435.8 342.9,440.7 360.2,440.7 361.2,445.3 362.3,453.7 412.3,453.7" fill="none" stroke="#03336f" stroke-width="1.6" stroke-linejoin="miter" stroke-linecap="butt"/>
<polyline points="317,403.9 326.5,403.9 326.5,409.1 337.2,409.1 337.9,414.4 338.5,420.1 341.6,420.1 342,424.9 353.6,424.9 353.8,437.4 383.1,437.4" fill="none" stroke="#2aa335" stroke-width="1.6" stroke-linejoin="miter" stroke-linecap="butt"/>
<line x1="317.5" y1="397.9" x2="317.5" y2="462.5" stroke="#000" stroke-width="1.0"/>
<line x1="316.5" y1="462.5" x2="414.25" y2="462.5" stroke="#000" stroke-width="1.0"/>
<line x1="313.8" y1="403.5" x2="317" y2="403.5" stroke="#000" stroke-width="1.0"/>
<text transform="translate(298.17,405.99) scale(1.060,1)" font-size="7.6" font-weight="normal" font-style="normal" fill="#111">100</text>
<line x1="313.8" y1="433.5" x2="317" y2="433.5" stroke="#000" stroke-width="1.0"/>
<text transform="translate(302.66,435.39) scale(1.060,1)" font-size="7.6" font-weight="normal" font-style="normal" fill="#111">50</text>
<line x1="313.8" y1="462.5" x2="317" y2="462.5" stroke="#000" stroke-width="1.0"/>
<text transform="translate(307.13,464.09) scale(1.060,1)" font-size="7.6" font-weight="normal" font-style="normal" fill="#111">0</text>
<line x1="317.5" y1="462" x2="317.5" y2="465.1" stroke="#000" stroke-width="1.0"/>
<text transform="translate(314.75,474.50) scale(1.060,1)" font-size="7.6" font-weight="normal" font-style="normal" fill="#111">0</text>
<line x1="336.5" y1="462" x2="336.5" y2="465.1" stroke="#000" stroke-width="1.0"/>
<text transform="translate(334.06,474.50) scale(1.060,1)" font-size="7.6" font-weight="normal" font-style="normal" fill="#111">2</text>
<line x1="355.5" y1="462" x2="355.5" y2="465.1" stroke="#000" stroke-width="1.0"/>
<text transform="translate(353.53,474.50) scale(1.060,1)" font-size="7.6" font-weight="normal" font-style="normal" fill="#111">4</text>
<line x1="375.5" y1="462" x2="375.5" y2="465.1" stroke="#000" stroke-width="1.0"/>
<text transform="translate(372.73,474.50) scale(1.060,1)" font-size="7.6" font-weight="normal" font-style="normal" fill="#111">6</text>
<line x1="394.5" y1="462" x2="394.5" y2="465.1" stroke="#000" stroke-width="1.0"/>
<text transform="translate(392.26,474.50) scale(1.060,1)" font-size="7.6" font-weight="normal" font-style="normal" fill="#111">8</text>
<line x1="413.5" y1="462" x2="413.5" y2="465.1" stroke="#000" stroke-width="1.0"/>
<text transform="translate(409.13,474.50) scale(1.060,1)" font-size="7.6" font-weight="normal" font-style="normal" fill="#111">10</text>
<text transform="translate(325.44,485.00) scale(0.733,1)" font-size="8.8" font-weight="normal" font-style="normal" fill="#111" style="stroke-width:0.4px">Overall survival time (years)</text>
<text transform="translate(293.50,452.32) rotate(-90) scale(0.801,1)" font-size="7.9" font-weight="normal" fill="#111" style="stroke-width:0.15px">Percent survival</text>
<text transform="translate(366.53,410.00) scale(1.031,1)" font-size="7.3" fill="#111"><tspan x="0.00" y="0.00" font-size="7.30" font-style="normal">X</tspan><tspan x="4.87" y="-2.77" font-size="4.53" font-style="normal">2</tspan><tspan x="7.39" y="0.00" font-size="7.30" font-style="normal">=2.5, </tspan><tspan x="25.85" y="0.00" font-size="7.30" font-style="italic">P</tspan><tspan x="30.72" y="0.00" font-size="7.30" font-style="normal">= </tspan><tspan x="37.01" y="0.00" font-size="7.30" font-style="italic">ns</tspan></text>
<line x1="421.6" y1="400.6" x2="429" y2="400.6" stroke="#14a01e" stroke-width="1.3"/>
<text transform="translate(431.22,402.50) scale(1.000,1)" font-size="7.0" font-weight="normal" font-style="normal" fill="#111">Low score</text>
<line x1="421.6" y1="410.5" x2="429" y2="410.5" stroke="#285a96" stroke-width="1.7"/>
<text transform="translate(431.15,412.40) scale(1.000,1)" font-size="7.0" font-weight="normal" font-style="normal" fill="#111">Intermediate score</text>
<line x1="421.6" y1="420.7" x2="429" y2="420.7" stroke="#c8001e" stroke-width="1.3"/>
<text transform="translate(431.22,422.50) scale(1.000,1)" font-size="7.0" font-weight="normal" font-style="normal" fill="#111">High score</text>
<text transform="translate(419.51,435.40) scale(1.011,1)" font-size="7.2" font-weight="bold" font-style="normal" fill="#111" style="stroke:#111;stroke-width:0.18px">Median OS survival (years)</text>
<line x1="420" y1="436.5" x2="512.2" y2="436.5" stroke="#111" stroke-width="0.8"/>
<text transform="translate(419.41,445.30) scale(1.000,1)" font-size="7.2" font-weight="normal" font-style="normal" fill="#111">Low score = 3.8</text>
<text transform="translate(419.33,455.10) scale(1.000,1)" font-size="7.2" font-weight="normal" font-style="normal" fill="#111">Interm. score = 2.3</text>
<text transform="translate(419.41,464.70) scale(1.000,1)" font-size="7.2" font-weight="normal" font-style="normal" fill="#111">High score = 2.3</text>
<text transform="translate(251.38,497.50) scale(0.963,1)" font-size="8.0" font-weight="bold" font-style="normal" fill="#111" style="stroke:#111;stroke-width:0.18px">Numbers at risk</text>
<line x1="251.9" y1="498.5" x2="309.6" y2="498.5" stroke="#111" stroke-width="0.8"/>
<text transform="translate(251.27,508.70) scale(1.108,1)" font-size="6.9" font-weight="normal" font-style="normal" fill="#111" style="stroke:none">Low score</text>
<text transform="translate(251.22,518.70) scale(1.065,1)" font-size="6.9" font-weight="normal" font-style="normal" fill="#111" style="stroke:none">Interm. score</text>
<text transform="translate(251.28,528.50) scale(1.096,1)" font-size="6.9" font-weight="normal" font-style="normal" fill="#111" style="stroke:none">High score</text>
<text transform="translate(313.65,509.00) scale(1.080,1)" font-size="7.1" font-weight="normal" font-style="normal" fill="#111" style="stroke-width:0.15px">12</text>
<text transform="translate(332.72,509.00) scale(1.080,1)" font-size="7.1" font-weight="normal" font-style="normal" fill="#111" style="stroke-width:0.15px">11</text>
<text transform="translate(356.47,509.00) scale(1.080,1)" font-size="7.1" font-weight="normal" font-style="normal" fill="#111" style="stroke-width:0.15px">3</text>
<text transform="translate(374.47,509.00) scale(1.080,1)" font-size="7.1" font-weight="normal" font-style="normal" fill="#111" style="stroke-width:0.15px">2</text>
<text transform="translate(393.17,509.00) scale(1.080,1)" font-size="7.1" font-weight="normal" font-style="normal" fill="#111" style="stroke-width:0.15px">1</text>
<text transform="translate(415.16,509.00) scale(1.080,1)" font-size="7.1" font-weight="normal" font-style="normal" fill="#111" style="stroke-width:0.15px">0</text>
<text transform="translate(313.71,519.00) scale(1.080,1)" font-size="7.1" font-weight="normal" font-style="normal" fill="#111" style="stroke-width:0.15px">34</text>
<text transform="translate(332.50,519.00) scale(1.080,1)" font-size="7.1" font-weight="normal" font-style="normal" fill="#111" style="stroke-width:0.15px">20</text>
<text transform="translate(356.53,519.00) scale(1.080,1)" font-size="7.1" font-weight="normal" font-style="normal" fill="#111" style="stroke-width:0.15px">7</text>
<text transform="translate(374.49,519.00) scale(1.080,1)" font-size="7.1" font-weight="normal" font-style="normal" fill="#111" style="stroke-width:0.15px">3</text>
<text transform="translate(393.27,519.00) scale(1.080,1)" font-size="7.1" font-weight="normal" font-style="normal" fill="#111" style="stroke-width:0.15px">2</text>
<text transform="translate(415.16,519.00) scale(1.080,1)" font-size="7.1" font-weight="normal" font-style="normal" fill="#111" style="stroke-width:0.15px">0</text>
<text transform="translate(313.62,528.80) scale(1.080,1)" font-size="7.1" font-weight="normal" font-style="normal" fill="#111" style="stroke-width:0.15px">18</text>
<text transform="translate(332.40,528.80) scale(1.080,1)" font-size="7.1" font-weight="normal" font-style="normal" fill="#111" style="stroke-width:0.15px">10</text>
<text transform="translate(356.47,528.80) scale(1.080,1)" font-size="7.1" font-weight="normal" font-style="normal" fill="#111" style="stroke-width:0.15px">6</text>
<text transform="translate(374.47,528.80) scale(1.080,1)" font-size="7.1" font-weight="normal" font-style="normal" fill="#111" style="stroke-width:0.15px">2</text>
<text transform="translate(393.17,528.80) scale(1.080,1)" font-size="7.1" font-weight="normal" font-style="normal" fill="#111" style="stroke-width:0.15px">1</text>
<text transform="translate(415.16,528.80) scale(1.080,1)" font-size="7.1" font-weight="normal" font-style="normal" fill="#111" style="stroke-width:0.15px">0</text>
<rect x="0.5" y="0.5" width="519" height="538" fill="none" stroke="#000" stroke-width="1.2"/>
</svg>
</body></html>
